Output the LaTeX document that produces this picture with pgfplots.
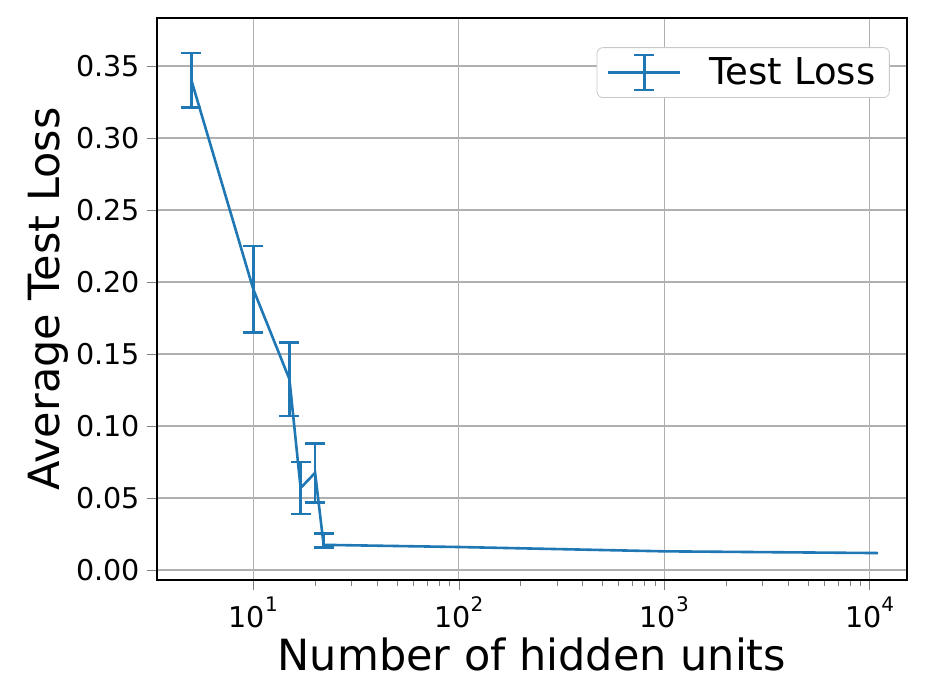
\documentclass[border=0pt]{standalone}
\usepackage{fontspec}
\setmainfont{DejaVu Sans}
\usepackage{pgfplots}
\pgfplotsset{compat=1.18}
\definecolor{c0}{HTML}{1F77B4}
\definecolor{gridgray}{HTML}{B0B0B0}
\begin{document}
\begin{tikzpicture}
\begin{axis}[
  scale only axis,
  width=375pt, height=281pt,
  xmode=log,
  xmin=3.4, xmax=15200,
  ymin=-0.0069, ymax=0.3833,
  xtick={10,100,1000,10000},
  xticklabels={10\raisebox{0.55em}{\fontsize{10}{10}\selectfont 1},10\raisebox{0.55em}{\fontsize{10}{10}\selectfont 2},10\raisebox{0.55em}{\fontsize{10}{10}\selectfont 3},10\raisebox{0.55em}{\fontsize{10}{10}\selectfont 4}},
  ytick={0,0.05,0.10,0.15,0.20,0.25,0.30,0.35},
  yticklabel style={/pgf/number format/.cd, fixed, fixed zerofill, precision=2, assume math mode=true},
  tick label style={font=\fontsize{14.3}{17}\selectfont},
  xlabel={Number of hidden units},
  ylabel={Average Test Loss},
  label style={font=\fontsize{21.5}{25}\selectfont},
  xlabel style={yshift=2pt},
  ylabel style={yshift=-3pt},
  grid=major,
  major grid style={gridgray, line width=0.6pt},
  tick align=outside,
  xtick pos=left, ytick pos=left,
  major tick length=5pt,
  minor tick length=3pt,
  axis line style={line width=0.6pt},
  legend style={at={(0.977,0.948)}, anchor=north east, font=\fontsize{18.5}{22}\selectfont,
    draw=gridgray!70, rounded corners=3pt, inner xsep=5pt, inner ysep=3pt},
  legend cell align=left,
  legend image code/.code={
    \draw[#1] (0pt,0pt) -- (36pt,0pt);
    \draw[#1] (18pt,-8.75pt) -- (18pt,8.75pt);
    \draw[#1] (13pt,-8.75pt) -- (23pt,-8.75pt);
    \draw[#1] (13pt,8.75pt) -- (23pt,8.75pt);
    \path (48pt,0pt);
  },
]
% line through all points
\addplot[c0, line width=1.3pt, mark=none] coordinates {
  (5,0.340) (10,0.195) (15,0.1325) (17,0.057) (20,0.0675)
  (22,0.0175) (100,0.0160) (1000,0.0130) (11000,0.0118)
};
\addlegendentry{Test Loss}
% error bars
\addplot[c0, draw=none, mark=none, forget plot,
  error bars/.cd, y dir=both, y explicit,
  error bar style={line width=1.3pt, c0},
  error mark options={rotate=90, mark size=5pt, line width=1.3pt, c0}]
coordinates {
  (5,0.340) +- (0,0.019)
  (10,0.195) +- (0,0.030)
  (15,0.1325) +- (0,0.0255)
  (17,0.057) +- (0,0.018)
  (20,0.0675) +- (0,0.0205)
  (22,0.0175) += (0,0.008) -= (0,0.002)
};
\end{axis}
\pgfresetboundingbox
\path ([xshift=-78.5pt,yshift=-60pt]current axis.south west) rectangle ([xshift=13.5pt,yshift=9pt]current axis.north east);
\end{tikzpicture}
\end{document}
